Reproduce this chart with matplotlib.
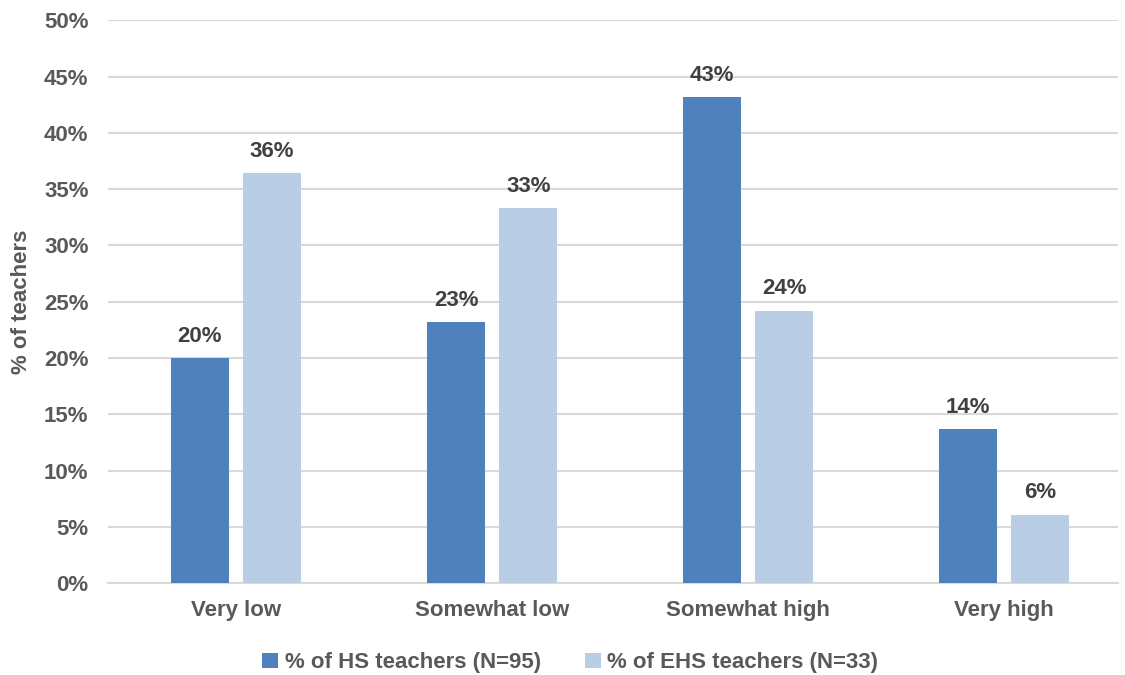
import numpy as np
import matplotlib
matplotlib.use('Agg')
import matplotlib.pyplot as plt
from matplotlib import font_manager

categories = ['Very low', 'Somewhat low', 'Somewhat high', 'Very high']
hs_values = [20.0, 23.2, 43.2, 13.7]
ehs_values = [36.4, 33.3, 24.2, 6.1]
series_names = ['% of HS teachers (N=95)', '% of EHS teachers (N=33)']

names = {f.name for f in font_manager.fontManager.ttflist}
narrow = 'Liberation Sans Narrow' if 'Liberation Sans Narrow' in names else 'Liberation Sans'
plt.rcParams['font.family'] = ['Liberation Sans', 'DejaVu Sans']

fig = plt.figure(figsize=(11.25, 6.75), dpi=100)
ax = fig.add_axes([0.096, 0.136, 0.898, 0.834])

x = np.arange(len(categories))
w = 0.226
off = 0.141
b1 = ax.bar(x - off, hs_values, w, color='#4F81BD', label=series_names[0], zorder=3)
b2 = ax.bar(x + off, ehs_values, w, color='#B9CDE5', label=series_names[1], zorder=3)

for bars, vals in ((b1, hs_values), (b2, ehs_values)):
    for rect, v in zip(bars, vals):
        ax.text(rect.get_x() + rect.get_width() / 2, v + 1.0, '{:.0f}%'.format(v),
                ha='center', va='bottom', fontsize=16, fontweight='bold', color='#404040')

ax.set_ylim(0, 50)
ax.set_xlim(-0.5, 3.445)
ax.set_yticks(np.arange(0, 51, 5))
ax.set_yticklabels(['{:d}%'.format(t) for t in range(0, 51, 5)])
ax.set_xticks(x)
ax.set_xticklabels(categories, fontfamily=narrow)
ax.tick_params(axis='y', length=0, labelsize=16, labelcolor='#595959', pad=14)
ax.tick_params(axis='x', length=0, labelsize=16, labelcolor='#595959', pad=12)
for lab in ax.get_xticklabels() + ax.get_yticklabels():
    lab.set_fontweight('bold')

ax.grid(axis='y', color='#D9D9D9', linewidth=1.5, zorder=0)
for s in ('top', 'right', 'left'):
    ax.spines[s].set_visible(False)
ax.spines['bottom'].set_color('#D9D9D9')
ax.spines['bottom'].set_linewidth(1.5)

ax.set_ylabel('% of teachers', fontsize=16, fontweight='bold', color='#595959', labelpad=10)
ax.yaxis.set_label_coords(-0.075, 0.5)

leg = fig.legend(handles=[b1, b2], loc='center', bbox_to_anchor=(0.507, 0.018), ncol=2,
                 frameon=False, handlelength=0.7, handleheight=0.7, handletextpad=0.3,
                 columnspacing=2.0, prop={'family': narrow, 'weight': 'bold', 'size': 16})
for t in leg.get_texts():
    t.set_color('#595959')

fig.savefig('out.png', dpi=100)
